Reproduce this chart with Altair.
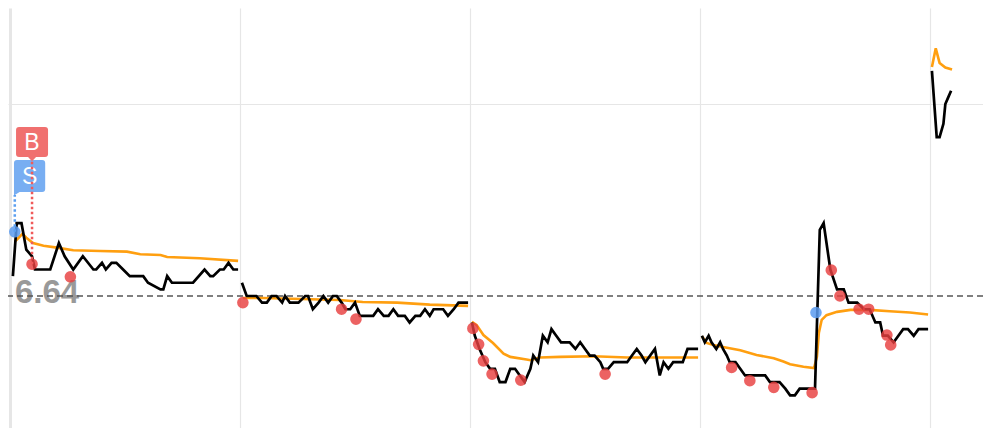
import altair as alt
import pandas as pd

PREV_CLOSE = 6.64
PREV_LABEL = "6.64"
DAY_LEN = 240  # trading minutes per day

# ---- black price line, per day (minutes since open, price) ----
d1_t = [3, 7, 12, 17, 23, 26, 42, 51, 57, 66, 76, 87, 90, 96, 100, 106, 111, 118, 125, 139,
        144, 157, 160, 164, 169, 191, 203, 209, 212, 219, 223, 228, 233, 238]
d1_p = [6.67, 6.75, 6.75, 6.71, 6.70, 6.68, 6.68, 6.72, 6.70, 6.68, 6.70, 6.68, 6.68, 6.69, 6.68, 6.69, 6.69, 6.68, 6.67, 6.67,
        6.66, 6.65, 6.65, 6.67, 6.66, 6.66, 6.68, 6.67, 6.67, 6.68, 6.68, 6.69, 6.68, 6.68]
d2_t = [2, 7, 17, 23, 28, 33, 38, 44, 47, 52, 61, 68, 71, 76, 82, 87, 92, 97, 101, 106,
        110, 115, 120, 125, 139, 144, 150, 155, 160, 165, 172, 177, 183, 188, 193, 198, 202, 212, 217, 223,
        228, 238]
d2_p = [6.66, 6.64, 6.64, 6.63, 6.63, 6.64, 6.64, 6.63, 6.64, 6.63, 6.63, 6.64, 6.64, 6.62, 6.63, 6.64, 6.63, 6.64, 6.64, 6.63,
        6.62, 6.62, 6.63, 6.61, 6.61, 6.62, 6.61, 6.61, 6.62, 6.61, 6.61, 6.60, 6.61, 6.61, 6.62, 6.61, 6.62, 6.62, 6.61, 6.62,
        6.63, 6.63]
d3_t = [2, 5, 10, 16, 21, 26, 31, 37, 42, 47, 52, 57, 63, 66, 71, 76, 81, 85, 90, 95,
        104, 110, 115, 120, 125, 130, 136, 139, 144, 150, 164, 169, 174, 179, 183, 188, 193, 198, 202, 207,
        212, 222, 227, 238]
d3_p = [6.60, 6.58, 6.56, 6.54, 6.53, 6.53, 6.51, 6.51, 6.53, 6.53, 6.52, 6.51, 6.53, 6.55, 6.54, 6.58, 6.57, 6.59, 6.58, 6.57,
        6.57, 6.56, 6.57, 6.56, 6.55, 6.55, 6.54, 6.53, 6.53, 6.54, 6.54, 6.55, 6.56, 6.55, 6.54, 6.55, 6.56, 6.52, 6.54, 6.53,
        6.54, 6.54, 6.56, 6.56]
d4_t = [2, 5, 9, 12, 17, 21, 24, 28, 31, 37, 42, 47, 52, 57, 63, 68, 73, 78, 83, 89,
        94, 99, 104, 111, 117, 120, 125, 129, 130, 136, 143, 150, 155, 164, 171, 177, 183, 188, 191, 196,
        202, 207, 212, 217, 223, 228, 238]
d4_p = [6.58, 6.57, 6.58, 6.57, 6.56, 6.57, 6.56, 6.55, 6.54, 6.54, 6.53, 6.52, 6.52, 6.52, 6.52, 6.52, 6.51, 6.51, 6.51, 6.50,
        6.49, 6.49, 6.50, 6.50, 6.50, 6.50, 6.74, 6.75, 6.74, 6.68, 6.65, 6.65, 6.63, 6.63, 6.62, 6.62, 6.60, 6.60, 6.58, 6.58,
        6.57, 6.58, 6.59, 6.59, 6.58, 6.59, 6.59]
d5_t = [2, 7, 10, 14, 16, 19, 22]
d5_p = [6.98, 6.88, 6.88, 6.90, 6.93, 6.94, 6.95]

# ---- orange average-price line, per day ----
a1_t = [5, 9, 13, 17, 24, 35, 49, 66, 94, 122, 136, 157, 164, 198, 238]
a1_p = [6.722, 6.728, 6.734, 6.728, 6.720, 6.716, 6.713, 6.709, 6.708, 6.707, 6.703, 6.702, 6.699, 6.697, 6.693]
a2_t = [3, 24, 104, 128, 164, 198, 238]
a2_p = [6.637, 6.637, 6.634, 6.631, 6.630, 6.627, 6.625]
a3_t = [2, 7, 14, 24, 35, 42, 59, 63, 73, 94, 129, 164, 198, 238]
a3_p = [6.601, 6.596, 6.581, 6.569, 6.553, 6.548, 6.544, 6.543, 6.547, 6.548, 6.549, 6.547, 6.547, 6.547]
a4_t = [2, 7, 14, 24, 42, 59, 77, 87, 94, 108, 119, 122, 124, 127, 132, 143, 157, 177, 198, 219, 238]
a4_p = [6.579, 6.569, 6.566, 6.563, 6.558, 6.551, 6.546, 6.541, 6.537, 6.533, 6.531, 6.548, 6.584, 6.604,
        6.611, 6.616, 6.619, 6.619, 6.617, 6.615, 6.612]
a5_t = [2, 6, 10, 16, 23]
a5_p = [6.986, 7.014, 6.992, 6.985, 6.982]

# ---- signal dots ----
red_day = [0, 0, 1, 1, 1, 2, 2, 2, 2, 2, 2, 3, 3, 3, 3, 3, 3, 3, 3, 3, 3]
red_t = [23, 63, 3, 106, 121, 3, 9, 14, 23, 53, 141, 33, 52, 77, 117, 137, 146, 166, 176, 195, 199]
red_p = [6.688, 6.669, 6.630, 6.620, 6.605, 6.591, 6.567, 6.542, 6.522, 6.513, 6.522,
         6.532, 6.512, 6.502, 6.494, 6.679, 6.640, 6.620, 6.620, 6.581, 6.566]
blue_day = [0, 3]
blue_t = [5, 121]
blue_p = [6.737, 6.615]

# ---- B / S trade markers ----
trade_label = ["S", "B"]
trade_day = [0, 0]
trade_t = [5, 23]
trade_p = [6.737, 6.688]


def frame(days):
    rows = []
    for day, (ts, ps) in enumerate(days):
        for t, p in zip(ts, ps):
            rows.append({"day": day, "g": day * DAY_LEN + t, "price": p})
    return pd.DataFrame(rows)


black_df = frame([(d1_t, d1_p), (d2_t, d2_p), (d3_t, d3_p), (d4_t, d4_p), (d5_t, d5_p)])
avg_df = frame([(a1_t, a1_p), (a2_t, a2_p), (a3_t, a3_p), (a4_t, a4_p), (a5_t, a5_p)])
red_df = pd.DataFrame({"g": [d * DAY_LEN + t for d, t in zip(red_day, red_t)], "price": red_p})
blue_df = pd.DataFrame({"g": [d * DAY_LEN + t for d, t in zip(blue_day, blue_t)], "price": blue_p})
trade_df = pd.DataFrame({"g": [d * DAY_LEN + t for d, t in zip(trade_day, trade_t)],
                         "price": trade_p, "label": trade_label})
prev_df = pd.DataFrame({"price": [PREV_CLOSE], "label": [PREV_LABEL]})

W, H = 975, 420
XS = alt.Scale(domain=[-2.087, 1015.3], nice=False, zero=False)
YS = alt.Scale(domain=[6.4406, 7.075], nice=False, zero=False)

x_axis = alt.Axis(values=[0, 240, 480, 720, 960], grid=True, labels=False, ticks=False,
                  domain=False, title=None, gridColor="#e6e6e6",
                  gridWidth={"condition": {"test": "datum.value === 0", "value": 3}, "value": 1.2})
y_axis = alt.Axis(values=[6.93], grid=True, labels=False, ticks=False, domain=False,
                  title=None, gridColor="#e6e6e6", gridWidth=1.2)

X = alt.X("g:Q", scale=XS, axis=x_axis)
Y = alt.Y("price:Q", scale=YS, axis=y_axis)

prev_text = alt.Chart(prev_df).mark_text(
    align="left", baseline="alphabetic", dy=7, fontSize=33, fontWeight="bold",
    color="#8f8f8f", opacity=0.9, font="Liberation Sans"
).encode(x=alt.value(7), y=Y, text="label:N")

prev_rule = alt.Chart(prev_df).mark_rule(
    color="#555555", strokeWidth=1.3, strokeDash=[6, 4]
).encode(y=Y)

avg_line = alt.Chart(avg_df).mark_line(color="#ff9f10", strokeWidth=2.6).encode(x=X, y=Y, detail="day:N")
price_line = alt.Chart(black_df).mark_line(color="#000000", strokeWidth=2.7).encode(x=X, y=Y, detail="day:N")

red_pts = alt.Chart(red_df).mark_circle(color="#e8403f", opacity=0.82, size=135).encode(x=X, y=Y)
blue_pts = alt.Chart(blue_df).mark_circle(color="#5b9bf0", opacity=0.85, size=135).encode(x=X, y=Y)

B_PATH = ("M-0.81,-0.94L0.81,-0.94Q1,-0.94 1,-0.75L1,0.75Q1,0.94 0.81,0.94"
          "L0.25,0.94L0,1.2L-0.25,0.94L-0.81,0.94Q-1,0.94 -1,0.75L-1,-0.75Q-1,-0.94 -0.81,-0.94Z")
S_PATH = ("M0.14,-1L1.71,-1Q1.9,-1 1.9,-0.81L1.9,0.81Q1.9,1 1.71,1"
          "L0.3,1L-0.05,1.22L-0.05,-0.81Q-0.05,-1 0.14,-1Z")

s_df = trade_df[trade_df.label == "S"]
b_df = trade_df[trade_df.label == "B"]

s_box = alt.Chart(s_df).mark_point(shape=S_PATH, filled=True, size=1024, color="#78aef2",
                                   opacity=1, strokeWidth=0).encode(x=X, y=alt.value(168))
s_txt = alt.Chart(s_df).mark_text(color="white", fontSize=23, dx=15, baseline="middle",
                                  font="Liberation Sans").encode(x=X, y=alt.value(169), text="label:N")
s_rule = alt.Chart(s_df).mark_rule(color="#5a9ef0", strokeWidth=2.5, strokeDash=[2.5, 2.5]).encode(
    x=X, y=Y, y2=alt.value(187))
b_rule = alt.Chart(b_df).mark_rule(color="#f05a5a", strokeWidth=2.5, strokeDash=[2.5, 2.5]).encode(
    x=X, y=Y, y2=alt.value(153))
b_box = alt.Chart(b_df).mark_point(shape=B_PATH, filled=True, size=1024, color="#f0706f",
                                   opacity=1, strokeWidth=0).encode(x=X, y=alt.value(134))
b_txt = alt.Chart(b_df).mark_text(color="white", fontSize=23, baseline="middle",
                                  font="Liberation Sans").encode(x=X, y=alt.value(135), text="label:N")

chart = alt.layer(
    prev_text, prev_rule, avg_line, price_line, red_pts, blue_pts,
    s_box, s_txt, s_rule, b_rule, b_box, b_txt
).properties(
    width=W, height=H, autosize="none", padding=0, background="white"
).configure_view(stroke=None)

chart.save("out.html", embed_options={"renderer": "svg", "actions": False})
